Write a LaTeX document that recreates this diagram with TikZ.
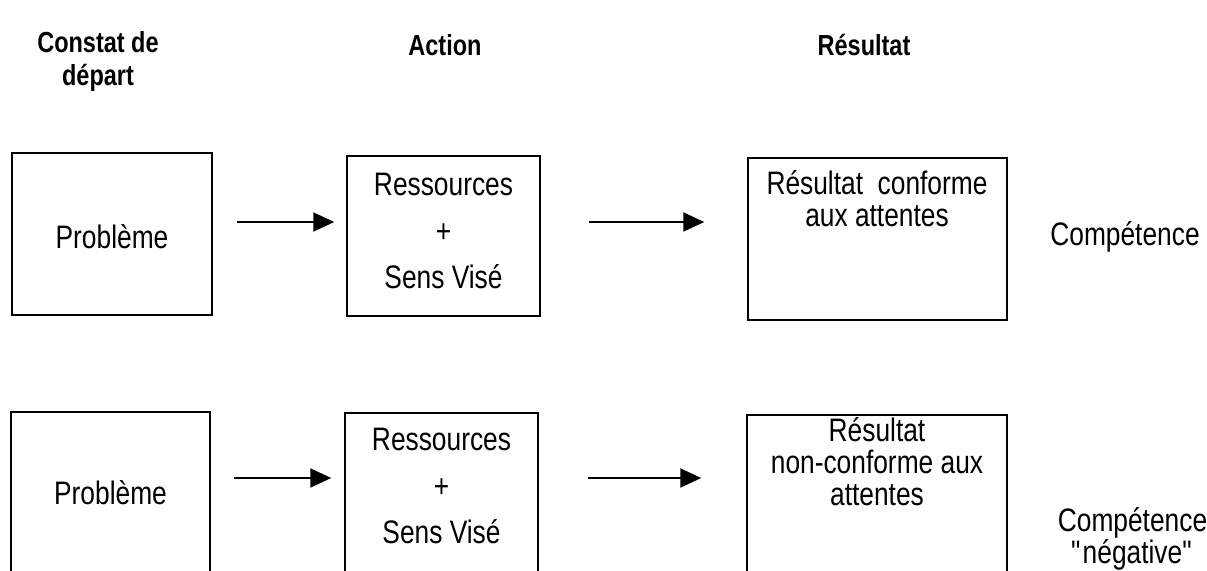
\documentclass[tikz,border=0pt]{standalone}
\usepackage{fontspec}
\setmainfont[FakeStretch=0.81]{Liberation Sans}
\usetikzlibrary{arrows.meta}

\begin{document}
\begin{tikzpicture}[
        boite/.style={draw, line width=0.85pt, inner sep=0pt},
        texte/.style={align=center, font=\fontsize{18.5}{18.2}\selectfont},
        titre/.style={align=center, font=\fontsize{16.5}{18.8}\selectfont\bfseries},
        fleche/.style={-{Triangle[length=0.42cm,width=0.38cm]}, line width=1.1pt}]
    \useasboundingbox (0,0) rectangle (24.14,11.4);
    \clip (0,0) rectangle (24.14,11.4);
    % titres des colonnes
    \node [titre] (constat) at (1.96,10.17) {Constat de\\départ};
    \node [titre] (action) at (8.9,10.5) {Action};
    \node [titre] (resultat) at (17.28,10.5) {Résultat};
    % premiere ligne
    \node [boite, minimum width=4.0cm, minimum height=3.24cm] (prob1) at (2.24,6.72) {};
    \node [boite, minimum width=3.86cm, minimum height=3.2cm] (res1) at (8.87,6.68) {};
    \node [boite, minimum width=5.18cm, minimum height=3.24cm] (out1) at (17.55,6.62) {};
    \node [texte] (prob1t) at (2.24,6.66) {Problème};
    \node [texte] (res1t) at (8.87,6.78) {Ressources\\[8pt]+\\[8pt]Sens Visé};
    \node [texte] (out1t) at (17.54,7.42) {Résultat\ \ conforme\\aux attentes};
    \node [texte] (comp1) at (22.5,6.66) {Compétence};
    \draw [fleche, shorten <=0.48cm, shorten >=0.24cm] (prob1.east |- 0,6.96) -- (res1.west |- 0,6.96);
    \draw [fleche, shorten <=0.96cm, shorten >=0.86cm] (res1.east |- 0,6.96) -- (out1.west |- 0,6.96);
    % deuxieme ligne
    \node [boite, minimum width=3.98cm, minimum height=3.36cm] (prob2) at (2.21,1.48) {};
    \node [boite, minimum width=3.86cm, minimum height=3.34cm] (res2) at (8.83,1.47) {};
    \node [boite, minimum width=5.2cm, minimum height=3.3cm] (out2) at (17.54,1.45) {};
    \node [texte] (prob2t) at (2.21,1.54) {Problème};
    \node [texte] (res2t) at (8.83,1.68) {Ressources\\[8pt]+\\[8pt]Sens Visé};
    \node [texte] (out2t) at (17.54,2.16) {Résultat\\non-conforme aux\\attentes};
    \node [texte] (comp2) at (22.65,0.63) {Compétence\\\textquotedbl négative\textquotedbl};
    \draw [fleche, shorten <=0.46cm, shorten >=0.26cm] (prob2.east |- 0,1.84) -- (res2.west |- 0,1.84);
    \draw [fleche, shorten <=0.98cm, shorten >=0.9cm] (res2.east |- 0,1.84) -- (out2.west |- 0,1.84);
\end{tikzpicture}
\end{document}
